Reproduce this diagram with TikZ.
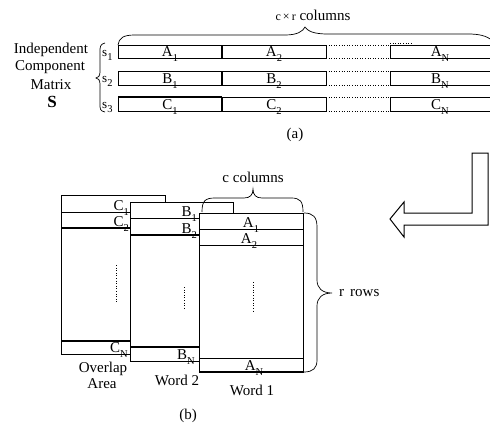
\documentclass[tikz,border=0pt]{standalone}
\usepackage{fontspec}
\setmainfont{Liberation Serif}
\newcommand\lab[2]{#1\raisebox{-0.36em}{\fontsize{10.5}{10.5}\selectfont #2}}
\begin{document}
\begin{tikzpicture}[x=1pt,y=-1pt,
  thinl/.style={line width=0.7pt},
  thickl/.style={line width=1.6pt},
  lbl/.style={font=\fontsize{15}{16}\selectfont, inner sep=0pt},
  slbl/.style={font=\fontsize{13}{14}\selectfont, inner sep=0pt},
  box/.style={draw, line width=0.7pt, fill=white},
  dots/.style={dotted, line width=0.6pt}]
\useasboundingbox (0,0) rectangle (490,423);

% ---------- (a) ----------
\node[lbl] (t1) at (51,50) {Independent};
\node[lbl] (t2) at (50,67) {Component};
\node[lbl] (t3) at (51,85) {Matrix};
\node[font=\fontsize{17}{18}\selectfont\bfseries, inner sep=0pt] (tS) at (52,102) {S};

\draw[thinl] (105,43) .. controls (100,44) and (100,47) .. (100,52) -- (100,72)
  .. controls (100,76) and (98,78) .. (96,78) .. controls (98,78) and (100,80) .. (100,84)
  -- (100,104) .. controls (100,109) and (100,111) .. (105,112);

\node[slbl, anchor=base west] (s1) at (102,56) {\lab{s}{1}};
\node[slbl, anchor=base west] (s2) at (102,82) {\lab{s}{2}};
\node[slbl, anchor=base west] (s3) at (102,108) {\lab{s}{3}};

% rows
\foreach \t/\b/\L [count=\i] in {45/58/A, 71/85/B, 97/111/C}{
  \draw[thinl] (118,\t) rectangle (222,\b);
  \draw[thinl] (222,\t) rectangle (326,\b);
  \draw[thinl] (492,\t) -- (390,\t) -- (390,\b) -- (492,\b);
  \draw[thickl] (222,\t) -- (222,\b);
  \draw[dots] (326,\t) -- (390,\t);
  \draw[dots] (326,\b) -- (390,\b);
  \node[lbl, anchor=base] (r\i a) at (170,\b-1.5) {\lab{\L}{1}};
  \node[lbl, anchor=base] (r\i b) at (274,\b-1.5) {\lab{\L}{2}};
  \node[lbl, anchor=base] (r\i c) at (440,\b-1.5) {\lab{\L}{N}};
}
\draw[line width=1.2pt] (118,97) -- (222,97);
\draw[dots] (390,43) -- (412,43);

\draw[thinl] (118,45) .. controls (119,38) and (123,35) .. (135,35) -- (285,35)
  .. controls (298,35) and (303,31) .. (305,27) .. controls (308,31) and (313,34) .. (328,34)
  -- (468,34) .. controls (480,34) and (486,36) .. (492,40);
\node[lbl] (cr) at (313,15) {{\fontsize{12}{12}\selectfont c\,×\,r} columns};
\node[lbl] (a) at (295,135) {(a)};

% ---------- arrow ----------
\draw[line width=1pt, line join=miter] (488,153) -- (472,153) -- (472,213) -- (404,213) -- (404,202)
  -- (390,219) -- (404,237) -- (404,225) -- (488,225) -- cycle;

% ---------- (b) ----------
% overlap area
\draw[box] (61,195) rectangle (165,354);
\draw[thinl] (61,212) -- (165,212);
\draw[thickl] (61,228) -- (165,228);
\draw[thickl] (61,341) -- (165,341);
\node[lbl, anchor=base east] (c1) at (129,210) {\lab{C}{1}};
\node[lbl, anchor=base east] (c2) at (129,226.5) {\lab{C}{2}};
\node[lbl, anchor=base east] (cn) at (128,352.5) {\lab{C}{N}};
\draw[dots] (116,265) -- (116,302);

% word 2
\draw[box] (130,202) rectangle (233,361);
\draw[thinl] (130,218) -- (233,218);
\draw[thickl] (130,235) -- (233,235);
\draw[thickl] (130,347) -- (233,347);
\node[lbl, anchor=base east] (b1) at (197,216.5) {\lab{B}{1}};
\node[lbl, anchor=base east] (b2) at (197,233) {\lab{B}{2}};
\node[lbl, anchor=base east] (bn) at (195,359.5) {\lab{B}{N}};
\draw[dots] (184,287) -- (184,310);

% word 1
\draw[box] (199,213) rectangle (303,372);
\draw[thinl] (199,229) -- (303,229);
\draw[thinl] (199,245) -- (303,245);
\draw[thinl] (199,358) -- (303,358);
\draw[thickl] (199,372) -- (303,372);
\node[lbl, anchor=base] (a1) at (251,227.5) {\lab{A}{1}};
\node[lbl, anchor=base] (a2) at (249,243.5) {\lab{A}{2}};
\node[lbl, anchor=base] (an) at (254,370.5) {\lab{A}{N}};
\draw[dots] (253,282) -- (253,312);

% braces
\draw[thinl] (202,212) .. controls (202,201) and (205,198) .. (215,198) -- (244,198)
  .. controls (250,198) and (253,195) .. (253,189) .. controls (253,195) and (256,198) .. (262,198)
  -- (291,198) .. controls (300,198) and (303,201) .. (303,212);
\node[lbl] (cc) at (253,177) {c\hspace{4pt}columns};

\draw[thinl] (304,213) .. controls (313,213) and (317,217) .. (317,227) -- (317,280)
  .. controls (317,288) and (322,293) .. (332,293) .. controls (322,293) and (317,298) .. (317,306)
  -- (317,360) .. controls (317,368) and (313,372) .. (304,372);
\node[lbl, anchor=west] (rr) at (339,293) {r\hspace{6pt}rows};

\node[lbl] (ov1) at (103,369) {Overlap};
\node[lbl] (ov2) at (102,384) {Area};
\node[lbl] (w2) at (177,380) {Word 2};
\node[lbl] (w1) at (252,390) {Word 1};
\node[lbl] (b) at (188,416) {(b)};
\end{tikzpicture}
\end{document}
